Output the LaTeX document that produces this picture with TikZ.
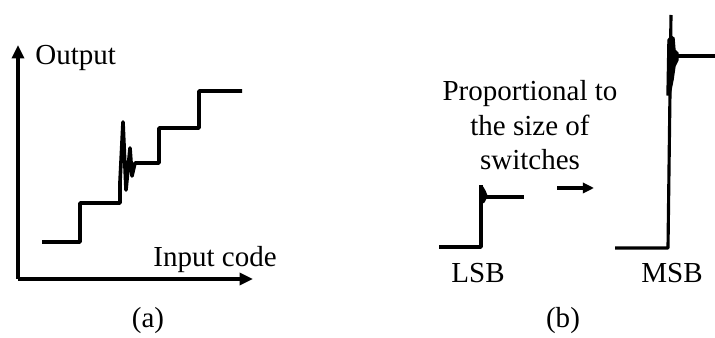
\documentclass[tikz,border=0pt]{standalone}
\usepackage{fontspec}
\setmainfont{Liberation Serif}
\usetikzlibrary{arrows.meta}
\tikzset{
    dacaxis/.style={draw, line width=1.35pt, -{Triangle[length=6pt, width=5.4pt]}},
    dacstep/.style={draw, line width=1.6pt, line join=round},
    dacglitch/.style={fill=black, draw=black, line width=0.6pt, line join=round},
    dacarrow/.style={draw, line width=1.5pt, -{Triangle[length=5pt, width=4.6pt]}},
    daclabel/.style={font=\fontsize{12.9}{15.5}\selectfont, inner sep=0pt}
}
\begin{document}
\begin{tikzpicture}[x=0.01563cm, y=-0.01563cm]
    \useasboundingbox (0,0) rectangle (715,338);

    % (a) transfer curve
    \coordinate (origin) at (18,279);
    \coordinate (ytop) at (18,45);
    \coordinate (xend) at (253,279);
    \draw[dacaxis] (origin) -- (ytop);
    \draw[dacaxis] (origin) -- (xend);
    \node[daclabel, anchor=base west] (outlabel) at (35,65) {Output};
    \node[daclabel, anchor=base west] (inlabel) at (153,267) {Input code};

    \draw[dacstep] (42,242) -- (80,242) -- (80,203) -- (120,203) -- (120,182)
        -- (123,122) -- (126,190) -- (130,148) -- (132,176) -- (135,163)
        -- (159,163) -- (159,128) -- (199,128) -- (199,91) -- (242,91);
    \node[daclabel, anchor=base] (capa) at (148,328) {(a)};

    % (b) LSB and MSB glitch
    \draw[dacstep] (439,247) -- (481,247) -- (481,185);
    \fill[dacglitch] (480,204) -- (480,190) -- (482,186) -- (485,191)
        -- (487,196) -- (484,202) -- cycle;
    \draw[dacstep] (483,197) -- (524,197);
    \node[daclabel, anchor=base] (lsb) at (478,283) {LSB};

    \coordinate (arrfrom) at (557,188);
    \coordinate (arrto) at (594,188);
    \draw[dacarrow] (arrfrom) -- (arrto);
    \node[daclabel, align=center, anchor=base] (prop) at (530,170)
        {Proportional to\\the size of\\switches};

    \draw[dacstep, line width=1.4pt] (615,248) -- (668,248) -- (671,15);
    \fill[dacglitch] (667,95) -- (668,40) -- (671,36) -- (674,38) -- (675,50)
        -- (678,53) -- (678,60) -- (675,66) -- (673,80) -- (670,95) -- cycle;
    \draw[dacstep, line width=1.4pt] (676,56) -- (715,56);
    \node[daclabel, anchor=base] (msb) at (672,283) {MSB};
    \node[daclabel, anchor=base] (capb) at (563,328) {(b)};
\end{tikzpicture}
\end{document}
